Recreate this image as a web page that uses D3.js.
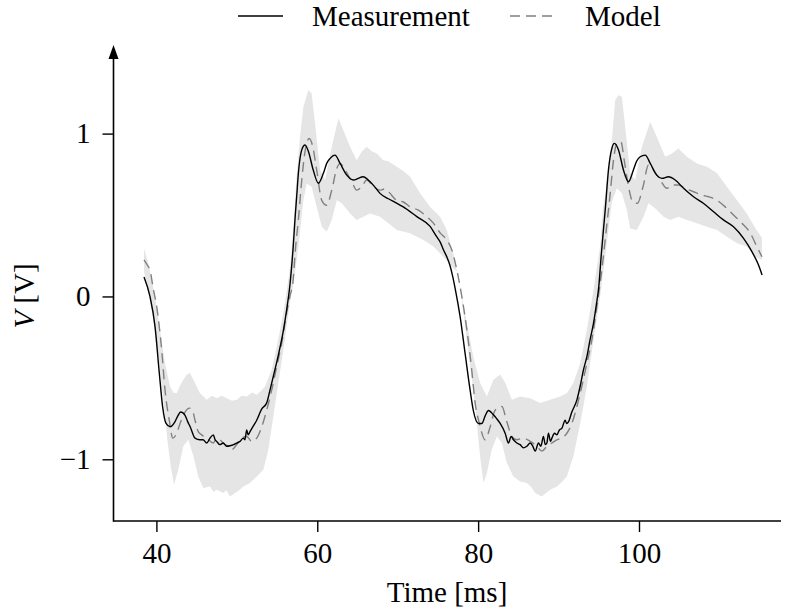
<!DOCTYPE html>
<html lang="en">
<head>
    <meta charset="UTF-8">
    <title>Measurement vs Model</title>
    <script src="https://cdn.jsdelivr.net/npm/d3@7"></script>
    <style>
        body {
            margin: 0;
            background: #fff;
        }

        text {
            font-family: "Liberation Serif", "DejaVu Serif", serif;
            font-size: 29px;
            fill: #000;
        }
    </style>
</head>
<body>
<script>
    //数据：测量值 [time ms, V]
    const measurement = [
        [38.46, 0.12], [39.2, 0.0], [39.83, -0.185], [40.36, -0.47], [40.78, -0.68], [41.2, -0.78], [41.7, -0.80],
        [42.3, -0.77], [42.7, -0.73], [43.0, -0.71], [43.3, -0.715], [43.56, -0.73], [43.9, -0.77], [44.2, -0.80],
        [44.8, -0.87], [45.4, -0.88], [45.8, -0.88], [46.26, -0.90], [46.67, -0.87], [47.08, -0.85], [47.3, -0.88],
        [47.5, -0.89], [47.9, -0.91], [48.3, -0.90], [48.74, -0.92], [49.15, -0.917], [49.6, -0.91], [49.99, -0.90],
        [50.4, -0.89], [50.8, -0.87], [51.0, -0.88], [51.23, -0.82], [51.4, -0.85], [51.64, -0.83], [52.0, -0.80],
        [52.47, -0.76], [53.1, -0.69], [53.7, -0.655], [54.1, -0.58], [54.54, -0.49], [55.16, -0.36], [55.8, -0.205],
        [56.2, -0.08], [56.6, 0.07], [57.0, 0.30], [57.24, 0.48], [57.45, 0.62], [57.65, 0.756], [58.07, 0.90],
        [58.48, 0.93], [58.9, 0.89], [59.5, 0.776], [60.14, 0.695], [60.76, 0.756], [61.2, 0.82], [61.6, 0.848],
        [62.2, 0.868], [62.84, 0.817], [63.67, 0.745], [64.5, 0.715], [65.1, 0.725], [65.7, 0.735], [66.57, 0.704],
        [67.2, 0.67], [67.8, 0.633], [68.84, 0.60], [69.8, 0.575], [70.7, 0.55], [72.38, 0.49], [74.03, 0.43],
        [74.8, 0.37], [75.27, 0.335], [75.7, 0.285], [76.1, 0.244], [76.5, 0.19], [76.85, 0.12], [77.14, 0.05],
        [77.76, -0.124], [78.38, -0.35], [79.0, -0.574], [79.4, -0.70], [80.04, -0.78], [80.46, -0.78], [80.9, -0.73],
        [81.28, -0.70], [81.9, -0.727], [82.3, -0.75], [82.74, -0.78], [83.36, -0.84], [83.77, -0.90], [84.1, -0.86],
        [84.39, -0.88], [84.81, -0.90], [85.22, -0.91], [85.63, -0.93], [86.06, -0.92], [86.47, -0.90], [86.8, -0.92],
        [87.09, -0.95], [87.5, -0.90], [87.8, -0.92], [88.12, -0.86], [88.35, -0.91], [88.55, -0.90], [88.74, -0.84],
        [89.0, -0.89], [89.17, -0.87], [89.5, -0.84], [89.79, -0.85], [90.1, -0.82], [90.41, -0.81], [90.82, -0.76],
        [91.0, -0.78], [91.23, -0.77], [91.65, -0.71], [92.28, -0.635], [92.69, -0.55], [93.1, -0.45], [93.52, -0.37],
        [93.9, -0.27], [94.34, -0.165], [94.7, -0.05], [95.0, 0.06], [95.3, 0.25], [95.58, 0.41], [95.8, 0.53],
        [96.2, 0.776], [96.63, 0.91], [96.95, 0.94], [97.45, 0.90], [98.07, 0.776], [98.7, 0.704], [99.3, 0.776],
        [99.7, 0.83], [100.15, 0.858], [100.77, 0.868], [101.4, 0.817], [102.2, 0.745], [102.85, 0.725], [103.67, 0.735],
        [104.5, 0.715], [105.54, 0.664], [106.78, 0.612], [108.0, 0.572], [109.27, 0.52], [110.5, 0.47], [111.75, 0.428],
        [113.0, 0.357], [114.04, 0.275], [114.86, 0.193], [115.3, 0.132]
    ];

    //数据：模型均值
    const model = [
        [38.46, 0.224], [38.9, 0.19], [39.2, 0.163], [39.6, 0.05], [40.04, -0.063], [40.66, -0.33], [41.07, -0.574],
        [41.6, -0.76], [42.03, -0.87], [42.52, -0.84], [42.94, -0.78], [43.56, -0.71], [44.1, -0.686], [44.5, -0.70],
        [44.8, -0.76], [45.2, -0.83], [45.63, -0.85], [46.26, -0.87], [47.08, -0.90], [47.5, -0.87], [47.9, -0.88],
        [48.53, -0.91], [49.0, -0.92], [49.37, -0.94], [49.99, -0.91], [50.6, -0.87], [51.23, -0.86], [51.85, -0.89],
        [52.47, -0.87], [53.1, -0.80], [53.7, -0.70], [54.34, -0.574], [54.96, -0.43], [55.58, -0.287], [56.2, -0.10],
        [56.6, 0.0], [57.0, 0.10], [57.3, 0.30], [57.65, 0.47], [58.07, 0.715], [58.48, 0.89], [59.0, 0.97],
        [59.44, 0.92], [59.93, 0.776], [60.56, 0.59], [61.18, 0.56], [61.8, 0.653], [62.43, 0.786], [62.84, 0.817],
        [63.46, 0.776], [64.3, 0.704], [64.9, 0.653], [65.53, 0.674], [66.15, 0.715], [66.98, 0.674], [67.8, 0.653],
        [68.4, 0.66], [68.84, 0.645], [69.05, 0.633], [69.89, 0.59], [70.7, 0.58], [71.54, 0.55], [72.57, 0.53],
        [73.6, 0.49], [74.44, 0.45], [75.27, 0.39], [76.1, 0.347], [76.73, 0.285], [77.35, 0.163], [77.97, 0.0],
        [78.6, -0.205], [79.2, -0.45], [79.63, -0.655], [80.16, -0.78], [80.87, -0.88], [81.5, -0.80], [82.1, -0.70],
        [82.95, -0.676], [83.57, -0.77], [84.2, -0.86], [84.8, -0.88], [85.63, -0.87], [86.47, -0.89], [87.3, -0.92],
        [87.92, -0.95], [88.55, -0.92], [89.17, -0.90], [89.79, -0.88], [90.41, -0.87], [91.03, -0.84], [91.65, -0.78],
        [92.28, -0.676], [92.9, -0.55], [93.52, -0.41], [94.14, -0.267], [94.76, -0.063], [95.38, 0.163], [95.8, 0.35],
        [96.42, 0.633], [96.83, 0.837], [97.25, 0.94], [97.75, 0.95], [98.16, 0.837], [98.7, 0.674], [99.24, 0.58],
        [99.8, 0.572], [100.5, 0.674], [101.18, 0.807], [101.8, 0.776], [102.64, 0.715], [103.47, 0.664], [104.1, 0.684],
        [104.9, 0.684], [105.75, 0.664], [106.78, 0.643], [107.82, 0.623], [108.65, 0.612], [109.7, 0.59], [110.72, 0.55],
        [111.75, 0.50], [112.8, 0.45], [113.83, 0.39], [114.66, 0.305], [115.28, 0.244]
    ];

    //数据：置信带上沿
    const bandUpper = [
        [38.46, 0.296], [39.0, 0.204], [39.83, 0.0], [40.45, -0.205], [41.07, -0.41], [41.7, -0.553], [42.1, -0.59],
        [42.52, -0.594], [43.0, -0.54], [43.35, -0.512], [43.8, -0.48], [44.18, -0.47], [44.8, -0.532], [45.42, -0.594],
        [46.26, -0.635], [46.9, -0.61], [47.5, -0.625], [48.1, -0.61], [48.74, -0.625], [49.4, -0.64], [50.0, -0.635],
        [50.6, -0.61], [51.23, -0.615], [51.9, -0.59], [52.47, -0.604], [53.0, -0.58], [53.5, -0.553], [54.34, -0.45],
        [54.96, -0.31], [55.8, -0.10], [56.6, 0.17], [57.0, 0.40], [57.4, 0.72], [57.86, 0.98], [58.27, 1.164],
        [58.9, 1.267], [59.3, 1.247], [59.72, 1.063], [60.35, 0.776], [60.97, 0.715], [61.8, 0.919], [62.63, 1.093],
        [63.25, 1.02], [64.08, 0.919], [64.9, 0.837], [65.53, 0.888], [66.15, 0.919], [66.8, 0.89], [67.4, 0.878],
        [68.2, 0.837], [68.84, 0.83], [69.9, 0.796], [70.7, 0.77], [71.54, 0.735], [72.79, 0.633], [74.03, 0.55],
        [75.27, 0.49], [76.1, 0.408], [76.93, 0.26], [77.76, 0.06], [78.6, -0.165], [79.4, -0.37], [80.24, -0.53],
        [81.08, -0.615], [81.9, -0.512], [82.74, -0.48], [83.36, -0.53], [84.2, -0.635], [85.22, -0.615], [86.47, -0.625],
        [87.7, -0.655], [88.95, -0.635], [90.2, -0.615], [91.03, -0.594], [91.85, -0.53], [92.69, -0.41], [93.52, -0.205],
        [94.34, 0.04], [95.17, 0.306], [95.5, 0.53], [96.42, 0.837], [97.04, 1.206], [97.45, 1.236], [97.87, 1.226],
        [98.5, 0.94], [98.9, 0.756], [99.53, 0.715], [100.36, 0.919], [101.4, 1.072], [102.2, 0.98], [103.26, 0.858],
        [104.1, 0.878], [104.9, 0.909], [105.96, 0.858], [107.2, 0.817], [108.45, 0.796], [109.7, 0.756], [110.93, 0.674],
        [112.18, 0.59], [113.4, 0.51], [114.45, 0.42], [115.28, 0.36]
    ];

    //数据：置信带下沿
    const bandLower = [
        [38.46, 0.152], [39.4, -0.063], [40.24, -0.37], [40.86, -0.635], [41.36, -0.88], [41.78, -1.044], [42.19, -1.156],
        [42.72, -1.064], [43.35, -0.92], [43.97, -0.88], [44.59, -0.98], [45.21, -1.105], [45.83, -1.177], [46.67, -1.167],
        [47.1, -1.20], [47.5, -1.187], [48.32, -1.207], [48.7, -1.19], [49.15, -1.228], [49.78, -1.207], [50.3, -1.19],
        [50.8, -1.167], [51.64, -1.146], [52.47, -1.105], [53.3, -1.064], [53.92, -0.94], [54.54, -0.737], [55.16, -0.53],
        [55.78, -0.33], [56.6, -0.04], [57.1, 0.10], [57.65, 0.305], [58.27, 0.59], [58.7, 0.694], [59.3, 0.674],
        [59.93, 0.55], [60.56, 0.428], [61.18, 0.398], [61.8, 0.469], [62.43, 0.59], [63.05, 0.572], [64.08, 0.51],
        [64.9, 0.469], [65.73, 0.49], [66.57, 0.51], [67.8, 0.49], [68.84, 0.45], [69.9, 0.408], [71.54, 0.388],
        [73.2, 0.347], [74.44, 0.306], [75.68, 0.244], [76.6, 0.19], [77.55, 0.142], [78.17, -0.10], [78.8, -0.35],
        [79.4, -0.574], [79.84, -0.78], [80.24, -0.98], [80.66, -1.146], [81.08, -1.085], [81.7, -0.94], [82.33, -0.86],
        [82.95, -0.90], [83.57, -1.023], [84.39, -1.105], [85.22, -1.136], [86.06, -1.146], [86.6, -1.17], [87.09, -1.207],
        [87.92, -1.228], [88.95, -1.187], [89.79, -1.167], [90.4, -1.14], [91.03, -1.105], [91.85, -0.98], [92.69, -0.78],
        [93.52, -0.553], [94.34, -0.267], [95.17, 0.0], [96.0, 0.33], [96.63, 0.58], [97.25, 0.664], [97.87, 0.633],
        [98.5, 0.53], [98.9, 0.418], [99.74, 0.408], [100.56, 0.49], [101.18, 0.572], [102.0, 0.541], [103.05, 0.49],
        [103.88, 0.469], [104.9, 0.49], [105.96, 0.469], [107.2, 0.45], [108.45, 0.428], [109.7, 0.408], [110.93, 0.367],
        [112.18, 0.326], [113.4, 0.306], [114.45, 0.244], [115.28, 0.224]
    ];

    //刻度
    const xTicks = [40, 60, 80, 100];
    const yTicks = [-1, 0, 1];
    const legendNames = ["Measurement", "Model"];

    //基本信息
    const width = 786;
    const height = 616;
    const axisX0 = 113.5;   // y轴所在位置
    const axisY0 = 521;     // x轴所在位置
    const dash = "10,6";

    const x = d3.scaleLinear().domain([40, 100]).range([156.4, 639]);
    const y = d3.scaleLinear().domain([-1, 1]).range([459.3, 133.6]);

    const svg = d3.select("body").append("svg")
        .attr("width", width)
        .attr("height", height);

    //折线（置信带用）与平滑曲线（两条线用）
    const line = d3.line()
        .x(d => x(d[0]))
        .y(d => y(d[1]));
    const smooth = d3.line()
        .curve(d3.curveMonotoneX)
        .x(d => x(d[0]))
        .y(d => y(d[1]));

    //置信带：上沿正序 + 下沿倒序，闭合成多边形
    const bandPoly = bandUpper.concat(bandLower.slice().reverse());
    svg.append("path")
        .attr("fill", "#e5e5e5")
        .attr("stroke", "none")
        .attr("d", line(bandPoly) + "Z");

    //模型（虚线）
    svg.append("path")
        .datum(model)
        .attr("fill", "none")
        .attr("stroke", "#808080")
        .attr("stroke-width", 1.4)
        .attr("stroke-dasharray", dash)
        .attr("d", smooth);

    //测量（实线）
    svg.append("path")
        .datum(measurement)
        .attr("fill", "none")
        .attr("stroke", "#000")
        .attr("stroke-width", 1.4)
        .attr("stroke-linejoin", "round")
        .attr("d", smooth);

    //x轴
    const xAxis = svg.append("g")
        .attr("transform", `translate(0,${axisY0})`)
        .call(d3.axisBottom(x).tickValues(xTicks).tickSize(11).tickPadding(10).tickFormat(d3.format("d")));
    xAxis.select(".domain").remove();
    xAxis.selectAll(".tick line").attr("stroke", "#000").attr("stroke-width", 1.4);
    xAxis.selectAll(".tick text")
        .attr("font-family", null)
        .attr("font-size", null);

    //y轴
    const yAxis = svg.append("g")
        .attr("transform", `translate(${axisX0},0)`)
        .call(d3.axisLeft(y).tickValues(yTicks).tickSize(11).tickPadding(12).tickFormat(d3.format("d")));
    yAxis.select(".domain").remove();
    yAxis.selectAll(".tick line").attr("stroke", "#000").attr("stroke-width", 1.4);
    yAxis.selectAll(".tick text")
        .attr("font-family", null)
        .attr("font-size", null);

    //坐标轴线
    svg.append("line")
        .attr("x1", axisX0).attr("x2", 781)
        .attr("y1", axisY0).attr("y2", axisY0)
        .attr("stroke", "#000").attr("stroke-width", 1.6);
    svg.append("line")
        .attr("x1", axisX0).attr("x2", axisX0)
        .attr("y1", axisY0 + 0.8).attr("y2", 56)
        .attr("stroke", "#000").attr("stroke-width", 1.6);
    //箭头
    svg.append("path")
        .attr("d", `M${axisX0},45 L${axisX0 - 5},59 L${axisX0 + 5},59 Z`)
        .attr("fill", "#000");

    //轴标题
    svg.append("text")
        .attr("x", 447)
        .attr("y", 602)
        .attr("text-anchor", "middle")
        .text("Time [ms]");

    const yLabel = svg.append("text")
        .attr("transform", "translate(34,296) rotate(-90)")
        .attr("text-anchor", "middle");
    yLabel.append("tspan").attr("font-style", "italic").text("V");
    yLabel.append("tspan").text(" [V]");

    //图例
    const legend = svg.append("g");
    legend.append("line")
        .attr("x1", 238).attr("x2", 283)
        .attr("y1", 16).attr("y2", 16)
        .attr("stroke", "#000").attr("stroke-width", 1.4);
    legend.append("text")
        .attr("x", 312).attr("y", 26)
        .text(legendNames[0]);
    legend.append("line")
        .attr("x1", 510).attr("x2", 555)
        .attr("y1", 16).attr("y2", 16)
        .attr("stroke", "#808080").attr("stroke-width", 1.4)
        .attr("stroke-dasharray", dash);
    legend.append("text")
        .attr("x", 585).attr("y", 26)
        .text(legendNames[1]);
</script>
</body>
</html>
